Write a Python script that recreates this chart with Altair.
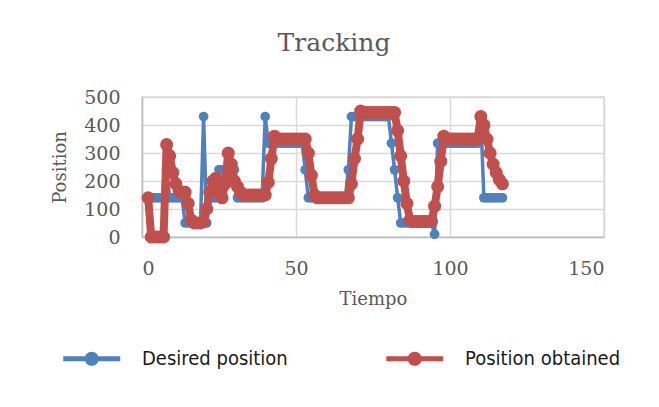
import altair as alt
import pandas as pd

time = list(range(2, 118))

desired = [
    140, 140, 140, 140, 140, 140,            # t2-7
    240,                                     # t8
    140, 140, 140, 140, 140,                 # t9-13
    50, 50, 50, 50, 50, 50,                  # t14-19
    430,                                     # t20
    50,                                      # t21
    140, 140, 140,                           # t22-24
    240, 240, 240, 240, 240, 240,            # t25-30
    140, 140, 140, 140, 140, 140, 140, 140, 140,  # t31-39
    430,                                     # t40
    335, 335, 335, 335, 335, 335, 335, 335, 335, 335, 335, 335,  # t41-52
    240,                                     # t53
    140, 140, 140, 140, 140, 140, 140, 140, 140, 140, 140, 140, 140,  # t54-66
    240,                                     # t67
    430, 430, 430, 430, 430, 430, 430, 430, 430, 430, 430, 430, 430,  # t68-80
    335, 240, 140,                           # t81-83
    50, 50, 50, 50, 50, 50, 50, 50, 50, 50, 50,  # t84-94
    10,                                      # t95
    335, 335, 335, 335, 335, 335, 335, 335, 335, 335, 335, 335, 335, 335,  # t96-109
    430,                                     # t110
    140, 140, 140, 140, 140, 140, 140,       # t111-117
]

obtained = [
    140,                                     # t2
    0, 0, 0, 0, 0,                           # t3-7
    330, 290, 230, 190, 165, 160, 160, 120, 60, 50, 50, 50, 55,  # t8-20
    100, 160, 200, 210, 170, 140, 190, 300, 260, 200, 180, 160,  # t21-32
    150, 150, 150, 150, 150, 150, 150, 150,  # t33-40
    195, 280, 360,                           # t41-43
    350, 350, 350, 350, 350, 350, 350, 350, 350, 350,  # t44-53
    300, 220, 150,                           # t54-56
    140, 140, 140, 140, 140, 140, 140, 140, 140, 140, 140,  # t57-67
    190, 280, 350, 450,                      # t68-71
    445, 445, 445, 445, 445, 445, 445, 445, 445, 445, 445,  # t72-82
    380, 290, 200, 120, 60,                  # t83-87
    55, 55, 55, 55, 55, 55, 55,              # t88-94
    110, 180, 270, 360,                      # t95-98
    350, 350, 350, 350, 350, 350, 350, 350, 350, 350, 350,  # t99-109
    430, 400, 350, 300, 260, 230, 205, 190,  # t110-117
]

series_names = ["Desired position", "Position obtained"]
series_colors = ["#4F81BD", "#C0504D"]
x_ticks = [0, 50, 100, 150]
y_ticks = [0, 100, 200, 300, 400, 500]

df = pd.concat([
    pd.DataFrame({"Tiempo": time, "Position": desired, "series": series_names[0]}),
    pd.DataFrame({"Tiempo": time, "Position": obtained, "series": series_names[1]}),
])

serif = "DejaVu Serif"
legend_font = "Liberation Sans Narrow, DejaVu Sans Condensed, Roboto Condensed, Roboto"

x_enc = alt.X("Tiempo:Q", scale=alt.Scale(domain=[0, 150], nice=False),
              axis=alt.Axis(values=x_ticks, title="Tiempo"))
y_enc = alt.Y("Position:Q", scale=alt.Scale(domain=[0, 500], nice=False),
              axis=alt.Axis(values=y_ticks, title="Position"))
color_scale = alt.Scale(domain=series_names, range=series_colors)

legend_path = ("M-1,-0.18 L3,-0.18 L3,0.18 L-1,0.18 Z "
               "M1.5,0 A0.5,0.5 0 1,1 0.5,0 A0.5,0.5 0 1,1 1.5,0 Z")

legend = alt.Legend(
    title=None, orient="none", direction="horizontal", columns=2,
    legendX=-79, legendY=247,
    symbolType=legend_path, symbolSize=812, symbolStrokeWidth=0,
    symbolOpacity=1,
    labelFont=legend_font, labelFontSize=20, labelColor="#1a1a1a",
    labelLimit=400, labelOffset=50, columnPadding=98, padding=0,
)

base = alt.Chart(df)

layers = []
for i, (name, sw, sz) in enumerate(zip(series_names, [3.5, 8], [95, 170])):
    sub = base.transform_filter(alt.datum.series == name)
    line = sub.mark_line(strokeWidth=sw, strokeJoin="round", strokeCap="round",
                         color=series_colors[i]).encode(x=x_enc, y=y_enc)
    pts = sub.mark_point(filled=True, size=sz, opacity=1).encode(
        x=x_enc, y=y_enc,
        color=alt.Color("series:N", scale=color_scale, legend=legend),
    )
    layers += [line, pts]

chart = alt.layer(*layers).properties(
    width=462, height=140,
    title=alt.Title("Tracking", font=serif, fontSize=25, fontWeight="normal",
                    color="#595959", anchor="middle", dx=-39, offset=32),
    autosize=alt.AutoSizeParams(type="none"),
    padding={"left": 134, "top": 89, "right": 40, "bottom": 150},
    background="white",
).configure_view(stroke="#D9D9D9", strokeWidth=1.5).configure_axis(
    grid=True, gridColor="#D9D9D9", gridWidth=1.5,
    domainColor="#BFBFBF", domainWidth=1.5, ticks=False,
    labelFont=serif, labelFontSize=19, labelColor="#595959",
    titleFont=serif, titleFontSize=18, titleColor="#595959", titleFontWeight="normal",
).configure_axisX(labelPadding=22, titlePadding=12).configure_axisY(
    labelPadding=22, titlePadding=14
)

chart.save("out.html", embed_options={"renderer": "svg", "actions": False})
